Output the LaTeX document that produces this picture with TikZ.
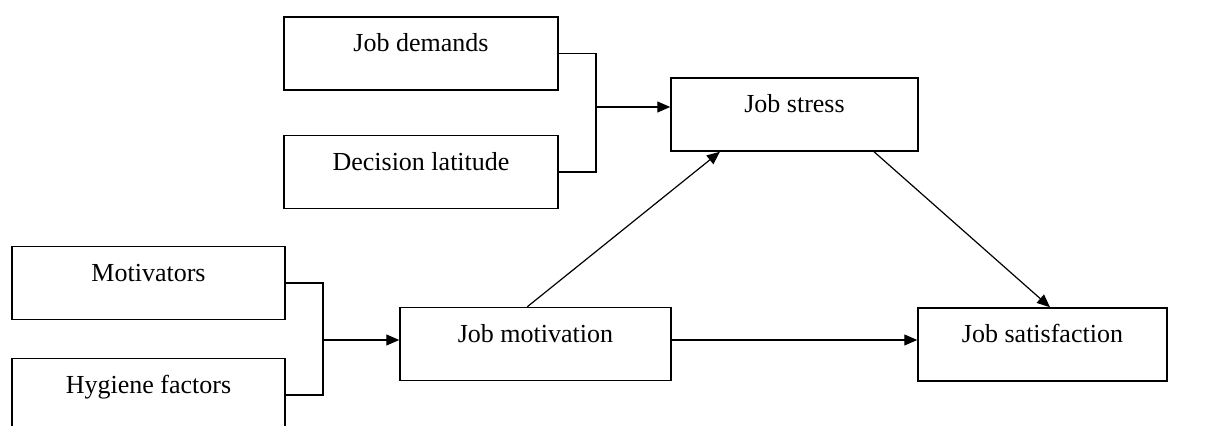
\documentclass[tikz,border=0pt]{standalone}
\usepackage{fontspec}
\setmainfont{Liberation Serif}
\usetikzlibrary{arrows.meta,calc}

\begin{document}
\begin{tikzpicture}[x=0.5pt,y=-0.5pt,
    factor/.style={draw, line width=0.75pt, inner xsep=0pt, inner ysep=0pt,
      minimum width=#1, text height=17.5pt, text depth=19pt,
      font=\fontsize{13}{15}\selectfont},
    factor/.default=137pt,
    link/.style={line width=0.7pt},
    arr/.style={line width=0.6pt, -{Triangle[length=6.5pt,width=5.5pt]}}]
  \useasboundingbox (0,0) rectangle (1227,426);
  % boxes
  \node[factor] (jd) at (421,53.5) {Job demands};
  \node[factor] (dl) at (421,172) {Decision latitude};
  \node[factor=123.5pt] (stress) at (794.5,114.5) {Job stress};
  \node[factor=136.5pt] (mot) at (148.5,283) {Motivators};
  \node[factor=136.5pt] (hyg) at (148.5,395) {Hygiene factors};
  \node[factor=135.5pt] (jmot) at (535.5,344) {Job motivation};
  \node[factor=124.5pt] (jsat) at (1042.5,344.5) {Job satisfaction};
  % brackets
  \coordinate (jbr) at (596,107);
  \draw[link] (jd.east) -- (jd.east -| jbr) -- (dl.east -| jbr) -- (dl.east);
  \draw[arr] (jbr) -- (jbr -| stress.west);
  \coordinate (mbr) at (323,340);
  \draw[link] (mot.east) -- (mot.east -| mbr) -- (hyg.east -| mbr) -- (hyg.east);
  \draw[arr] (mbr) -- (mbr -| jmot.west);
  % paths
  \draw[arr] ($(jmot.north west)!0.47!(jmot.north east)$) -- ($(stress.south west)!0.2!(stress.south east)$);
  \draw[arr] ($(stress.south west)!0.82!(stress.south east)$) -- ($(jsat.north west)!0.53!(jsat.north east)$);
  \coordinate (mout) at (671,340);
  \draw[arr] (mout) -- (mout -| jsat.west);
\end{tikzpicture}
\end{document}
